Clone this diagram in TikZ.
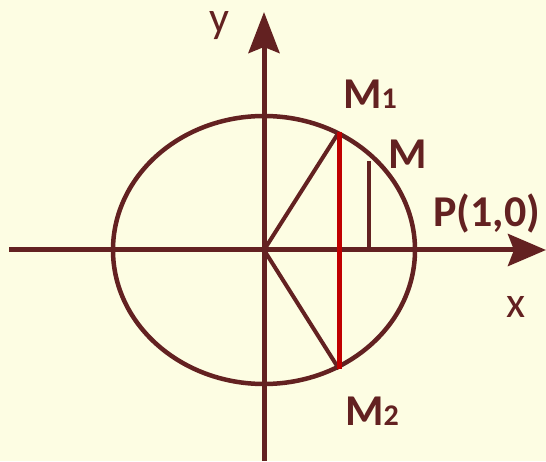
\documentclass[tikz,border=0pt]{standalone}
\usepackage{fontspec}
\setmainfont{Carlito}
\usetikzlibrary{arrows.meta}
\definecolor{bg}{RGB}{253,253,227}
\definecolor{brn}{RGB}{99,33,33}
\definecolor{rd}{RGB}{192,0,0}
\newcommand{\lab}[2]{#1{\fontsize{30}{30}\selectfont #2}}
\begin{document}
\begin{tikzpicture}[x=1pt,y=1pt,
  axis/.style={draw=brn,line width=5pt},
  curve/.style={draw=brn,line width=4.5pt},
  seg/.style={draw=brn,line width=4pt},
  redseg/.style={draw=rd,line width=5pt},
  bl/.style={font=\fontsize{44}{44}\selectfont\bfseries,text=brn,inner sep=0pt,anchor=base west},
  al/.style={font=\fontsize{44}{44}\selectfont,text=brn,inner sep=0pt,anchor=base}]
\fill[bg] (0,0) rectangle (546,461);
\useasboundingbox (0,0) rectangle (546,461);
\coordinate (O) at (264,211);
\coordinate (xs) at (9,211);
\coordinate (xe) at (546,211);
\coordinate (ys) at (264,0);
\coordinate (ye) at (264,449);
\coordinate (M1) at (339,329);
\coordinate (M2) at (339,92);
\coordinate (Mt) at (369,300);
\coordinate (Mb) at (369,211);
\draw[curve] (O) ellipse [x radius=151, y radius=134];
\draw[axis,-{Stealth[length=38pt,width=32pt,inset=6pt]}] (xs) -- (xe);
\draw[axis,-{Stealth[length=41pt,width=31pt,inset=6pt]}] (ys) -- (ye);
\draw[seg] (O) -- (M1);
\draw[seg] (O) -- (M2);
\draw[seg] (Mb) -- (Mt);
\draw[redseg] (M1) -- (M2);
\node[bl] (lM1) at (343,352) {\lab{M}{1}};
\node[bl] (lM) at (388,292) {M};
\node[bl] (lM2) at (345,36) {\lab{M}{2}};
\node[bl] (lP) at (433,234) {P(1,0)};
\node[al] (lx) at (516,144) {x};
\node[al] (ly) at (219,428) {y};
\end{tikzpicture}
\end{document}
